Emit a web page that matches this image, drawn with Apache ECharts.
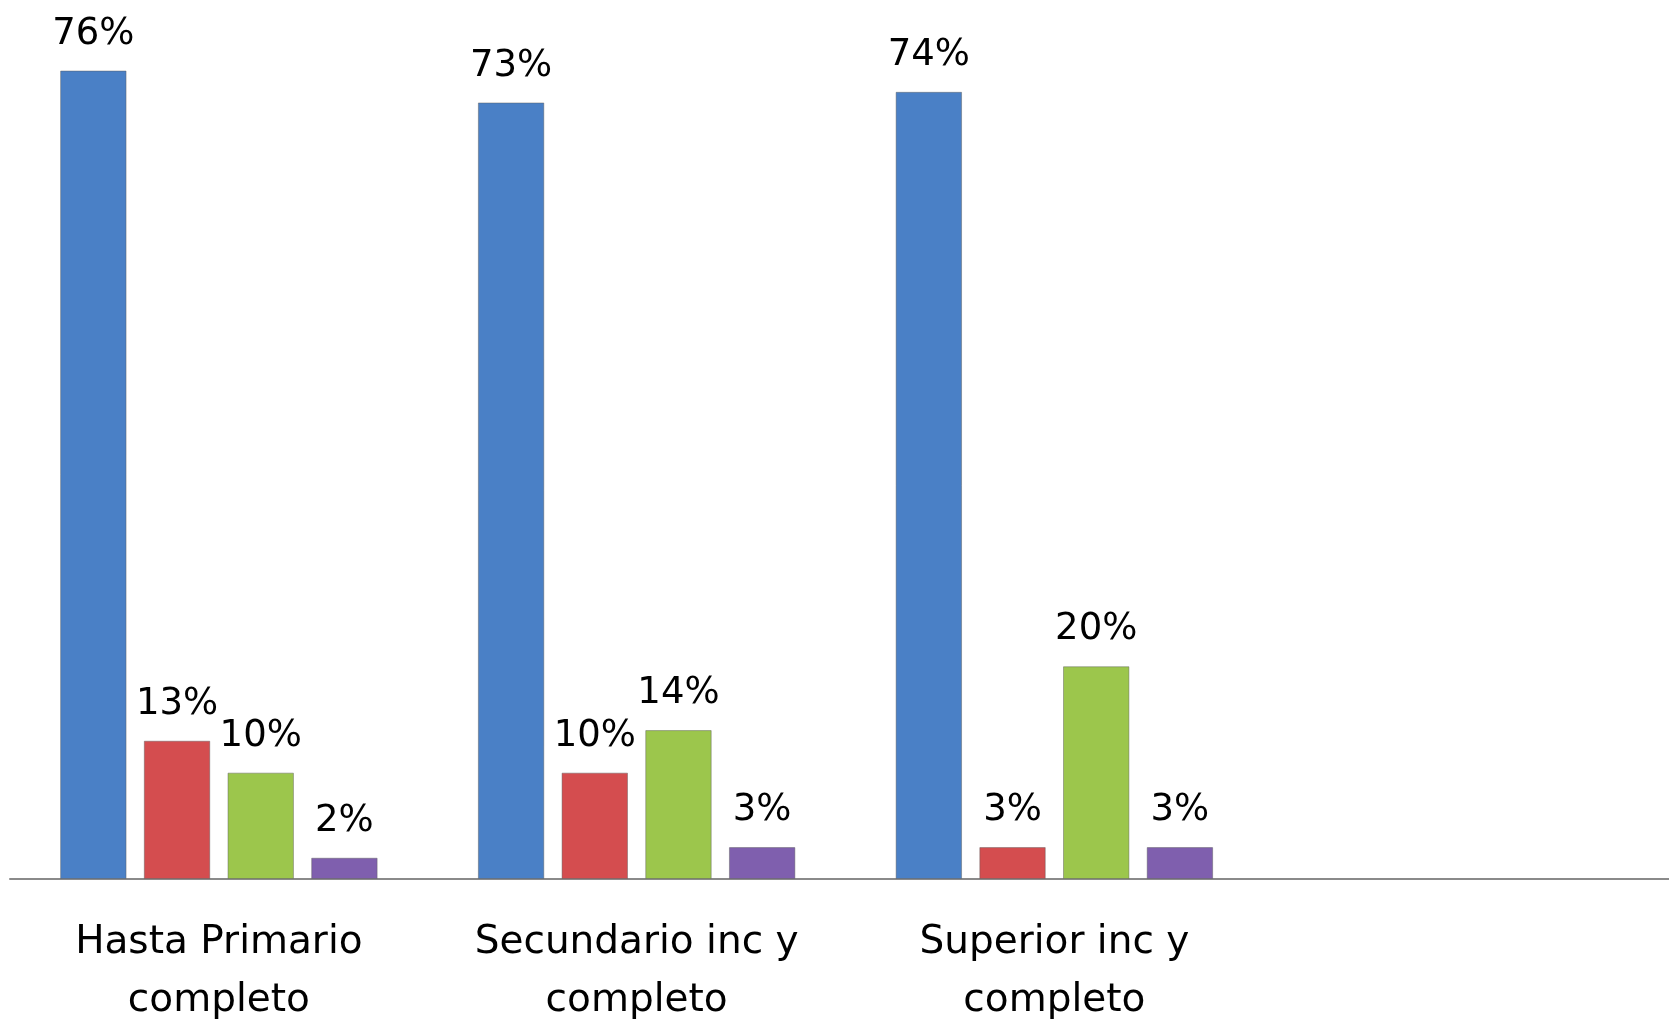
<!DOCTYPE html>
<html>
<head>
<meta charset="utf-8">
<script src="https://cdn.jsdelivr.net/npm/echarts@6/dist/echarts.min.js"></script>
<style>
  html, body { margin: 0; padding: 0; background: #fff; }
  #chart { width: 1669px; height: 1021px; }
</style>
</head>
<body>
<div id="chart"></div>
<script>
// categories (4th slot is empty in the original)
var categories = ["Hasta Primario\ncompleto", "Secundario inc y\ncompleto", "Superior inc y\ncompleto", ""];

// series values, percent
var serieA = [76, 73, 74, null];
var serieB = [13, 10, 3, null];
var serieC = [10, 14, 20, null];
var serieD = [2, 3, 3, null];

var colors = ["#4a80c6", "#d44d4f", "#9cc64c", "#7f5fae"];
var fontFam = "'DejaVu Sans', sans-serif";

function makeSeries(name, values, i) {
  return {
    name: name,
    type: "bar",
    data: values,
    barGap: "26%",
    barCategoryGap: "24%",
    itemStyle: {
      color: colors[i],
      borderColor: "rgba(90,90,90,0.45)",
      borderWidth: 1
    },
    label: {
      show: true,
      position: "top",
      distance: 18,
      formatter: "{c}%",
      color: "#000",
      fontFamily: fontFam,
      fontSize: 37
    }
  };
}

var chart = echarts.init(document.getElementById("chart"));
chart.setOption({
  animation: false,
  grid: { left: 10, width: 1671, top: 28, bottom: 142, containLabel: false, outerBoundsMode: "none" },
  xAxis: {
    type: "category",
    data: categories,
    axisLine: { lineStyle: { color: "#8a8a8a", width: 2 } },
    axisTick: { show: false },
    axisLabel: {
      interval: 0,
      hideOverlap: false,
      color: "#000",
      fontFamily: fontFam,
      fontSize: 39,
      lineHeight: 58,
      margin: 35
    }
  },
  yAxis: {
    type: "value",
    min: 0,
    max: 80,
    show: false,
    splitLine: { show: false }
  },
  series: [
    makeSeries("A", serieA, 0),
    makeSeries("B", serieB, 1),
    makeSeries("C", serieC, 2),
    makeSeries("D", serieD, 3)
  ]
});
</script>
</body>
</html>
